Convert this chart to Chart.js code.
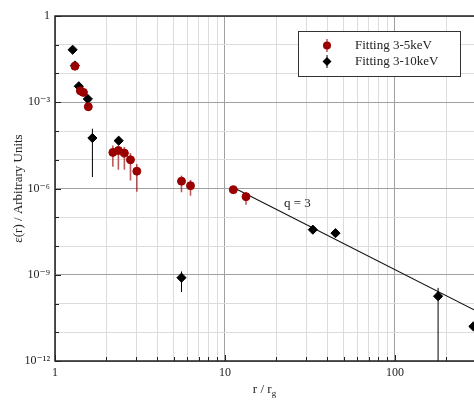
<!DOCTYPE html>
<html>
<head>
<meta charset="utf-8">
<script src="https://cdn.jsdelivr.net/npm/chart.js@4"></script>
<style>
  html, body { margin: 0; padding: 0; background: #fff; }
  #wrap { width: 474px; height: 403px; }
</style>
</head>
<body>
<div id="wrap"><canvas id="emis"></canvas></div>
<script>
// 3-5 keV 피팅 (빨간 원)
const softR   = [1.31, 1.41, 1.47, 1.57, 2.19, 2.36, 2.56, 2.78, 3.03, 5.55, 6.27, 11.2, 13.3];
const softEps = [1.8e-2, 2.5e-3, 2.2e-3, 7.0e-4, 1.8e-5, 2.1e-5, 1.7e-5, 1.0e-5, 4.0e-6, 1.8e-6, 1.25e-6, 9.1e-7, 5.2e-7];
const softLo  = [1.5e-2, 1.65e-3, 1.8e-3, 5.0e-4, 5.7e-6, 4.5e-6, 4.5e-6, 1.9e-6, 7.7e-7, 7.4e-7, 5.6e-7, 8.0e-7, 2.7e-7];
const softHi  = [2.1e-2, 3.4e-3, 2.6e-3, 1.2e-3, 3.1e-5, 3.1e-5, 2.8e-5, 1.7e-5, 7.1e-6, 2.8e-6, 2.0e-6, 1.0e-6, 7.4e-7];

// 3-10 keV 피팅 (검은 마름모)
const hardR   = [1.27, 1.31, 1.38, 1.56, 1.66, 2.37, 5.55, 32.9, 44.7, 179.5, 289.6];
const hardEps = [6.7e-2, 1.9e-2, 3.6e-3, 1.3e-3, 5.7e-5, 4.6e-5, 7.9e-10, 3.7e-8, 2.8e-8, 1.8e-10, 1.6e-11];
const hardLo  = [null, null, null, null, 2.5e-6, null, 2.5e-10, null, null, 1e-13, null];
const hardHi  = [null, null, null, null, 1.2e-4, null, 1.3e-9, null, null, 3.5e-10, null];

// q = 3 기울기 선
const lineR   = [11.5, 292];
const lineEps = [1.0e-6, 6.0e-11];

// 눈금
const xTicks = [1, 2, 3, 4, 5, 6, 7, 8, 9, 10, 20, 30, 40, 50, 60, 70, 80, 90, 100, 200];
const xMajor = [1, 10, 100];
const yTicks = [1, 1e-1, 1e-2, 1e-3, 1e-4, 1e-5, 1e-6, 1e-7, 1e-8, 1e-9, 1e-10, 1e-11, 1e-12];
const yLabels = { 0: '1', '-3': '10⁻³', '-6': '10⁻⁶', '-9': '10⁻⁹', '-12': '10⁻¹²' };

const FONT = '"Liberation Serif", "DejaVu Serif", serif';
const RED = '#9a0000';
const RED_BAR = 'rgba(154, 0, 0, 0.65)';

const toPts = (xs, ys) => xs.map((x, i) => ({ x: x, y: ys[i] }));
const expOf = v => Math.round(Math.log10(v));

// 오차 막대
const errorBars = {
    id: 'errorBars',
    beforeDatasetsDraw(chart) {
        const { ctx, chartArea: a, scales: { x, y } } = chart;
        const sets = [
            { xs: softR, lo: softLo, hi: softHi, color: RED_BAR, w: 1.6 },
            { xs: hardR, lo: hardLo, hi: hardHi, color: '#000', w: 1 }
        ];
        ctx.save();
        ctx.beginPath();
        ctx.rect(a.left, a.top, a.right - a.left, a.bottom - a.top);
        ctx.clip();
        sets.forEach(s => {
            ctx.strokeStyle = s.color;
            ctx.lineWidth = s.w;
            s.xs.forEach((r, i) => {
                if (s.lo[i] == null) return;
                const px = x.getPixelForValue(r);
                ctx.beginPath();
                ctx.moveTo(px, y.getPixelForValue(s.hi[i]));
                ctx.lineTo(px, y.getPixelForValue(s.lo[i]));
                ctx.stroke();
            });
        });
        ctx.restore();
    }
};

// 테두리, 안쪽 눈금, 축 제목, 범례, 주석
const decorations = {
    id: 'decorations',
    afterDraw(chart) {
        const { ctx, chartArea: a, scales: { x, y } } = chart;
        ctx.save();

        // 안쪽 눈금
        ctx.strokeStyle = '#222';
        ctx.lineWidth = 1;
        yTicks.forEach(v => {
            const py = Math.round(y.getPixelForValue(v)) + 0.5;
            ctx.beginPath();
            ctx.moveTo(a.left, py);
            ctx.lineTo(a.left + (expOf(v) % 3 === 0 ? 6 : 4), py);
            ctx.stroke();
        });
        xTicks.forEach(v => {
            const px = Math.round(x.getPixelForValue(v)) + 0.5;
            ctx.beginPath();
            ctx.moveTo(px, a.bottom);
            ctx.lineTo(px, a.bottom - (xMajor.includes(v) ? 6 : 4));
            ctx.stroke();
        });

        // 테두리
        ctx.lineWidth = 1.5;
        ctx.beginPath();
        ctx.moveTo(a.right + 2, a.top);
        ctx.lineTo(a.left, a.top);
        ctx.lineTo(a.left, a.bottom);
        ctx.lineTo(a.right + 2, a.bottom);
        ctx.stroke();

        // x축 제목 (아래첨자 g)
        ctx.fillStyle = '#222';
        ctx.font = '13px ' + FONT;
        ctx.textBaseline = 'alphabetic';
        const main = 'r / r';
        const wMain = ctx.measureText(main).width;
        ctx.font = '9px ' + FONT;
        const wSub = ctx.measureText('g').width;
        let tx = (a.left + a.right) / 2 - (wMain + wSub) / 2;
        ctx.font = '13px ' + FONT;
        ctx.textAlign = 'left';
        ctx.fillText(main, tx, 393);
        ctx.font = '9px ' + FONT;
        ctx.fillText('g', tx + wMain, 396);

        // y축 제목
        ctx.save();
        ctx.translate(22, (a.top + a.bottom) / 2);
        ctx.rotate(-Math.PI / 2);
        ctx.font = '13px ' + FONT;
        ctx.textAlign = 'center';
        ctx.fillText('ε(r) / Arbitrary Units', 0, 0);
        ctx.restore();

        // 주석
        ctx.font = '13px ' + FONT;
        ctx.textAlign = 'center';
        ctx.textBaseline = 'middle';
        ctx.fillText('q = 3', x.getPixelForValue(26.7), y.getPixelForValue(2.9e-7));

        // 범례
        const bx = 298, by = 31, bw = 162, bh = 45;
        ctx.fillStyle = '#fff';
        ctx.fillRect(bx, by, bw, bh);
        ctx.strokeStyle = '#333';
        ctx.lineWidth = 1;
        ctx.strokeRect(bx + 0.5, by + 0.5, bw, bh);

        const mx = 327;
        // 빨간 원
        ctx.strokeStyle = RED_BAR;
        ctx.lineWidth = 1.6;
        ctx.beginPath();
        ctx.moveTo(mx, 39);
        ctx.lineTo(mx, 52);
        ctx.stroke();
        ctx.fillStyle = RED;
        ctx.beginPath();
        ctx.arc(mx, 45.5, 4, 0, Math.PI * 2);
        ctx.fill();
        // 검은 마름모
        ctx.strokeStyle = '#000';
        ctx.lineWidth = 1;
        ctx.beginPath();
        ctx.moveTo(mx, 55);
        ctx.lineTo(mx, 68);
        ctx.stroke();
        ctx.fillStyle = '#000';
        ctx.beginPath();
        ctx.moveTo(mx, 57);
        ctx.lineTo(mx + 4.5, 61.5);
        ctx.lineTo(mx, 66);
        ctx.lineTo(mx - 4.5, 61.5);
        ctx.closePath();
        ctx.fill();

        ctx.fillStyle = '#222';
        ctx.font = '13px ' + FONT;
        ctx.textAlign = 'left';
        ctx.textBaseline = 'middle';
        ctx.fillText(chart.data.datasets[0].label, 355, 45.5);
        ctx.fillText(chart.data.datasets[1].label, 355, 62);

        ctx.restore();
    }
};

const ctx = document.getElementById('emis').getContext('2d');
new Chart(ctx, {
    type: 'scatter',
    data: {
        datasets: [
            {
                label: 'Fitting 3-5keV',
                data: toPts(softR, softEps),
                backgroundColor: RED,
                borderColor: RED,
                pointStyle: 'circle',
                pointRadius: 4,
                pointHoverRadius: 4
            },
            {
                label: 'Fitting 3-10keV',
                data: toPts(hardR, hardEps),
                backgroundColor: '#000',
                borderColor: '#000',
                pointStyle: 'rectRot',
                pointRadius: 4.6,
                pointHoverRadius: 4.6
            },
            {
                label: 'q = 3',
                type: 'line',
                data: toPts(lineR, lineEps),
                borderColor: '#111',
                borderWidth: 1.1,
                pointRadius: 0,
                fill: false
            }
        ]
    },
    options: {
        responsive: true,
        maintainAspectRatio: false,
        animation: false,
        events: [],
        layout: { autoPadding: false, padding: { top: 16, left: 0, right: 0, bottom: 0 } },
        scales: {
            x: {
                type: 'logarithmic',
                min: 1,
                max: 292,
                afterFit: s => { s.height = 42; },
                afterBuildTicks: s => { s.ticks = xTicks.map(v => ({ value: v })); },
                border: { display: false },
                grid: {
                    drawTicks: false,
                    color: c => xMajor.includes(c.tick && c.tick.value) ? '#a0a0a0' : '#dcdcdc',
                    lineWidth: 1
                },
                ticks: {
                    autoSkip: false,
                    maxRotation: 0,
                    padding: 5,
                    color: '#222',
                    font: { family: FONT, size: 12 },
                    callback: v => xMajor.includes(v) ? String(v) : ''
                }
            },
            y: {
                type: 'logarithmic',
                min: 1e-12,
                max: 1,
                afterFit: s => { s.width = 55; },
                afterBuildTicks: s => { s.ticks = yTicks.map(v => ({ value: v })); },
                border: { display: false },
                grid: {
                    drawTicks: false,
                    color: c => (c.tick && expOf(c.tick.value) % 3 === 0) ? '#a0a0a0' : '#dcdcdc',
                    lineWidth: 1
                },
                ticks: {
                    autoSkip: false,
                    padding: 5,
                    color: '#222',
                    font: { family: FONT, size: 12 },
                    callback: v => yLabels[expOf(v)] || ''
                }
            }
        },
        plugins: {
            legend: { display: false },
            tooltip: { enabled: false }
        }
    },
    plugins: [errorBars, decorations]
});
</script>
</body>
</html>
